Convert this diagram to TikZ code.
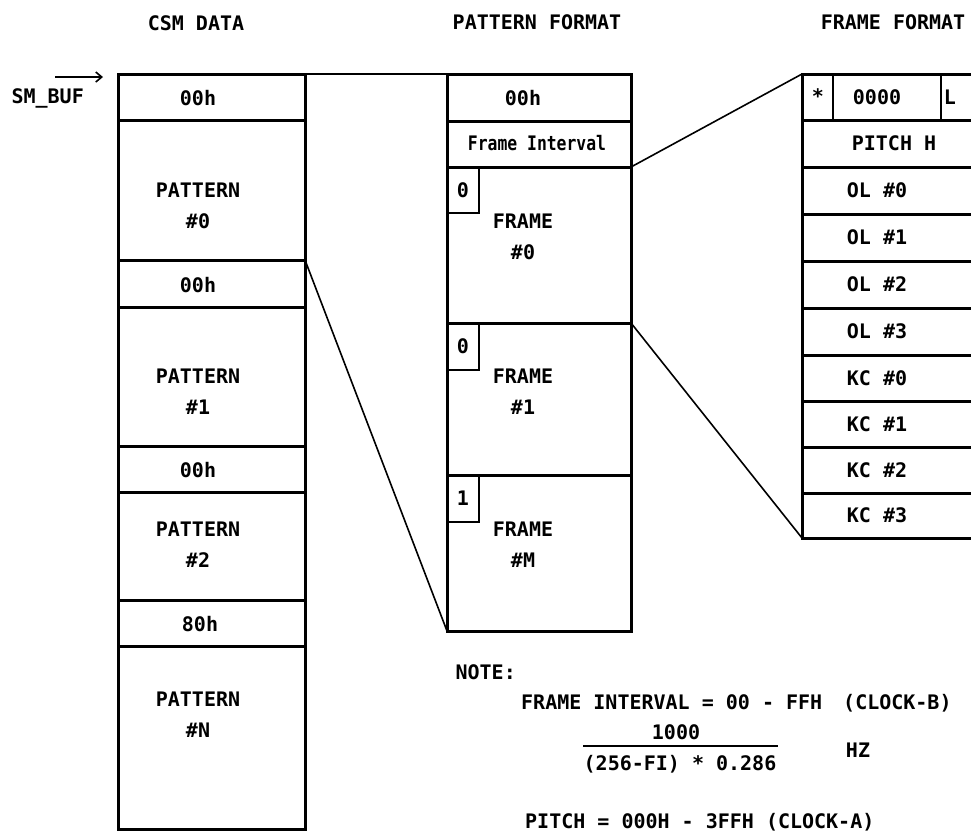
\documentclass[tikz,border=0pt]{standalone}
\usepackage{fontspec}
\usepackage{graphicx}
\setmainfont{DejaVu Sans Mono}
\usetikzlibrary{arrows.meta}
\begin{document}
\begin{tikzpicture}[x=1pt,y=-1pt,
 cell/.style={draw, line width=3pt, inner sep=0pt, outer sep=0pt},
 tag/.style={draw, line width=2pt, inner sep=0pt, outer sep=0pt},
 thin/.style={draw, line width=1.4pt, inner sep=0pt, outer sep=0pt},
 txt/.style={inner sep=0pt, font=\fontsize{20}{31}\selectfont\bfseries, align=center},
 link/.style={line width=1.6pt}]
\useasboundingbox (0,0) rectangle (971,831);
\clip (0,0) rectangle (971,831);
% ---------- left column: CSM data ----------
\node[cell, minimum width=187pt, minimum height=46pt]  (l0)  at (211.5,97) {};
\node[cell, minimum width=187pt, minimum height=140pt] (lp0) at (211.5,190) {};
\node[cell, minimum width=187pt, minimum height=47pt]  (l1)  at (211.5,283.5) {};
\node[cell, minimum width=187pt, minimum height=139pt] (lp1) at (211.5,376.5) {};
\node[cell, minimum width=187pt, minimum height=46pt]  (l2)  at (211.5,469) {};
\node[cell, minimum width=187pt, minimum height=108pt] (lp2) at (211.5,546) {};
\node[cell, minimum width=187pt, minimum height=46pt]  (l3)  at (211.5,623) {};
\node[cell, minimum width=187pt, minimum height=183pt] (lpn) at (211.5,737.5) {};
\node[txt] (tl0)  at (198,98)  {00h};
\node[txt] (tlp0) at (198,206) {PATTERN\\\#0};
\node[txt] (tl1)  at (198,285) {00h};
\node[txt] (tlp1) at (198,392) {PATTERN\\\#1};
\node[txt] (tl2)  at (198,470) {00h};
\node[txt] (tlp2) at (198,545) {PATTERN\\\#2};
\node[txt] (tl3)  at (200,624) {80h};
\node[txt] (tlpn) at (198,715) {PATTERN\\\#N};
% ---------- middle column: pattern format ----------
\node[cell, minimum width=184pt, minimum height=47pt]  (m0)  at (539,97.5) {};
\node[cell, minimum width=184pt, minimum height=46pt]  (mfi) at (539,144) {};
\node[cell, minimum width=184pt, minimum height=156pt] (mf0) at (539,245) {};
\node[cell, minimum width=184pt, minimum height=152pt] (mf1) at (539,399) {};
\node[cell, minimum width=184pt, minimum height=156pt] (mfm) at (539,553) {};
\node[tag, minimum width=32pt, minimum height=46pt] (g0) at (463,190) {};
\node[tag, minimum width=32pt, minimum height=47pt] (g1) at (463,346.5) {};
\node[tag, minimum width=32pt, minimum height=47pt] (g2) at (463,498.5) {};
\node[txt] (tg0) at (g0) {0};
\node[txt] (tg1) at (g1) {0};
\node[txt] (tg2) at (g2) {1};
\node[txt] (tm0)  at (523,98)  {00h};
\node[txt] (tmfi) at (537,143) {\scalebox{0.82}[1]{Frame Interval}};
\node[txt] (tmf0) at (523,237) {FRAME\\\#0};
\node[txt] (tmf1) at (523,392) {FRAME\\\#1};
\node[txt] (tmfm) at (523,545) {FRAME\\\#M};
% ---------- right column: frame format ----------
\node[cell, minimum width=173pt, minimum height=46pt] (r0)  at (888.5,97) {};
\node[cell, minimum width=173pt, minimum height=47pt] (rp)  at (888.5,143.5) {};
\node[cell, minimum width=173pt, minimum height=47pt] (ro0) at (888.5,190.5) {};
\node[cell, minimum width=173pt, minimum height=47pt] (ro1) at (888.5,237.5) {};
\node[cell, minimum width=173pt, minimum height=47pt] (ro2) at (888.5,284.5) {};
\node[cell, minimum width=173pt, minimum height=47pt] (ro3) at (888.5,331.5) {};
\node[cell, minimum width=173pt, minimum height=46pt] (rk0) at (888.5,378) {};
\node[cell, minimum width=173pt, minimum height=46pt] (rk1) at (888.5,424) {};
\node[cell, minimum width=173pt, minimum height=46pt] (rk2) at (888.5,470) {};
\node[cell, minimum width=173pt, minimum height=45pt] (rk3) at (888.5,515.5) {};
\node[thin, minimum width=31pt, minimum height=46pt] (rs) at (817.5,97) {};
\node[thin, minimum width=34pt, minimum height=46pt] (rl) at (958,97) {};
\node[txt] (trs) at (818,96) {*};
\node[txt] (tr0) at (877,97) {0000};
\node[txt] (trl) at (950,97) {L};
\node[txt] (trp) at (894,143) {PITCH H};
\node[txt] (tro0) at (877,190.5) {OL \#0};
\node[txt] (tro1) at (877,237.5) {OL \#1};
\node[txt] (tro2) at (877,284.5) {OL \#2};
\node[txt] (tro3) at (877,331.5) {OL \#3};
\node[txt] (trk0) at (877,378) {KC \#0};
\node[txt] (trk1) at (877,424) {KC \#1};
\node[txt] (trk2) at (877,470) {KC \#2};
\node[txt] (trk3) at (877,515.5) {KC \#3};
% ---------- titles ----------
\node[txt] (h1) at (196,23) {CSM DATA};
\node[txt] (h2) at (537,22) {PATTERN FORMAT};
\node[txt] (h3) at (893,22) {FRAME FORMAT};
% ---------- buffer pointer ----------
\node[txt, anchor=east] (buf) at (84,98) {SM\_BUF};
\coordinate (ps) at (55,77);
\coordinate (pe) at (103,77);
\draw[link, -{Straight Barb[length=6pt,width=10pt]}] (ps) -- (pe);
% ---------- connectors ----------
\draw[link] (l0.north east) -- (m0.north west);
\draw[link] (lp0.south east) -- (mfm.south west);
\draw[link] (mfi.south east) -- (r0.north west);
\draw[link] (mf0.south east) -- (rk3.south west);
% ---------- note ----------
\node[txt, anchor=base east] (note) at (516,679) {NOTE:};
\node[txt, anchor=base west] (n1) at (521,709) {FRAME INTERVAL = 00 - FFH};
\node[txt, anchor=base west] (n1b) at (843,709) {(CLOCK-B)};
\node[txt, anchor=base] (num) at (676,739) {1000};
\node[txt, anchor=base] (den) at (680,770) {(256-FI) * 0.286};
\coordinate (fa) at (583,746);
\coordinate (fb) at (778,746);
\draw[line width=1.6pt] (fa) -- (fb);
\node[txt, anchor=base] (hz) at (858,757) {HZ};
\node[txt, anchor=base west] (n2) at (525,828) {PITCH = 000H - 3FFH (CLOCK-A)};
\end{tikzpicture}
\end{document}
